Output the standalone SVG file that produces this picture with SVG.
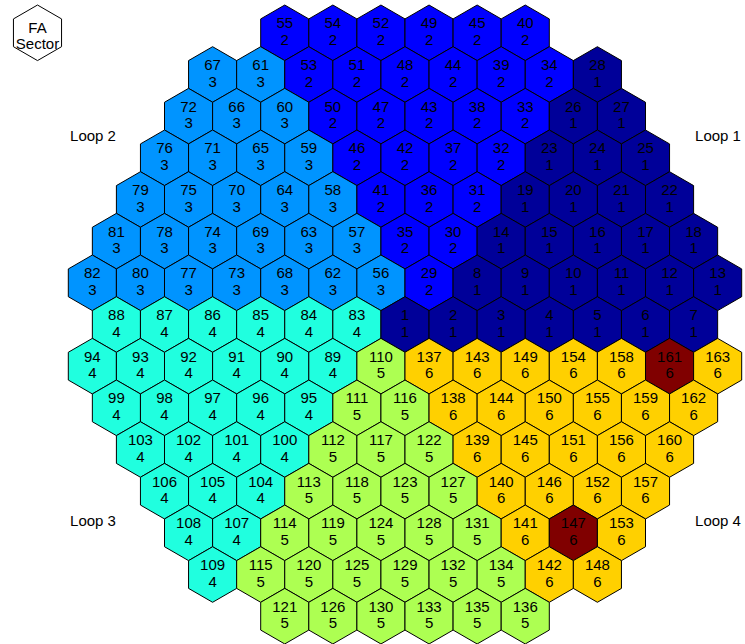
<svg xmlns="http://www.w3.org/2000/svg" xmlns:xlink="http://www.w3.org/1999/xlink" width="745" height="644" viewBox="0 0 745 644">
<defs>
<polygon id="h" points="0,-27.78 24.05,-13.89 24.05,13.89 0,27.78 -24.05,13.89 -24.05,-13.89" stroke="#000" stroke-width="1"/>
</defs>
<style>
text{font-family:"Liberation Sans",Arial,sans-serif;font-size:15px;text-anchor:middle;fill:#000}
.s1{fill:#000099}.s2{fill:#0000FF}.s3{fill:#0094FF}.s4{fill:#20FFDF}.s5{fill:#ADFF52}.s6{fill:#FFD000}.sx{fill:#800000}.sw{fill:#fff}
.lbl{text-anchor:middle}
</style>
<rect width="745" height="644" fill="#fff"/>
<g id="legend" transform="translate(37.5,32.8)"><use xlink:href="#h" class="sw"/><text y="0.5">FA</text><text y="16.5">Sector</text></g>
<g id="labels">
<text x="93" y="141">Loop 2</text>
<text x="718" y="141">Loop 1</text>
<text x="93" y="526">Loop 3</text>
<text x="718" y="526">Loop 4</text>
</g>
<g id="nodes">
<g id="fa55" transform="translate(284.75,32.8)"><use xlink:href="#h" class="s2"/><text y="-4.5">55</text><text y="12.2">2</text></g>
<g id="fa54" transform="translate(332.85,32.8)"><use xlink:href="#h" class="s2"/><text y="-4.5">54</text><text y="12.2">2</text></g>
<g id="fa52" transform="translate(380.95,32.8)"><use xlink:href="#h" class="s2"/><text y="-4.5">52</text><text y="12.2">2</text></g>
<g id="fa49" transform="translate(429.05,32.8)"><use xlink:href="#h" class="s2"/><text y="-4.5">49</text><text y="12.2">2</text></g>
<g id="fa45" transform="translate(477.15,32.8)"><use xlink:href="#h" class="s2"/><text y="-4.5">45</text><text y="12.2">2</text></g>
<g id="fa40" transform="translate(525.25,32.8)"><use xlink:href="#h" class="s2"/><text y="-4.5">40</text><text y="12.2">2</text></g>

<g id="fa67" transform="translate(212.6,74.47)"><use xlink:href="#h" class="s3"/><text y="-4.5">67</text><text y="12.2">3</text></g>
<g id="fa61" transform="translate(260.7,74.47)"><use xlink:href="#h" class="s3"/><text y="-4.5">61</text><text y="12.2">3</text></g>
<g id="fa53" transform="translate(308.8,74.47)"><use xlink:href="#h" class="s2"/><text y="-4.5">53</text><text y="12.2">2</text></g>
<g id="fa51" transform="translate(356.9,74.47)"><use xlink:href="#h" class="s2"/><text y="-4.5">51</text><text y="12.2">2</text></g>
<g id="fa48" transform="translate(405,74.47)"><use xlink:href="#h" class="s2"/><text y="-4.5">48</text><text y="12.2">2</text></g>
<g id="fa44" transform="translate(453.1,74.47)"><use xlink:href="#h" class="s2"/><text y="-4.5">44</text><text y="12.2">2</text></g>
<g id="fa39" transform="translate(501.2,74.47)"><use xlink:href="#h" class="s2"/><text y="-4.5">39</text><text y="12.2">2</text></g>
<g id="fa34" transform="translate(549.3,74.47)"><use xlink:href="#h" class="s2"/><text y="-4.5">34</text><text y="12.2">2</text></g>
<g id="fa28" transform="translate(597.4,74.47)"><use xlink:href="#h" class="s1"/><text y="-4.5">28</text><text y="12.2">1</text></g>

<g id="fa72" transform="translate(188.55,116.14)"><use xlink:href="#h" class="s3"/><text y="-4.5">72</text><text y="12.2">3</text></g>
<g id="fa66" transform="translate(236.65,116.14)"><use xlink:href="#h" class="s3"/><text y="-4.5">66</text><text y="12.2">3</text></g>
<g id="fa60" transform="translate(284.75,116.14)"><use xlink:href="#h" class="s3"/><text y="-4.5">60</text><text y="12.2">3</text></g>
<g id="fa50" transform="translate(332.85,116.14)"><use xlink:href="#h" class="s2"/><text y="-4.5">50</text><text y="12.2">2</text></g>
<g id="fa47" transform="translate(380.95,116.14)"><use xlink:href="#h" class="s2"/><text y="-4.5">47</text><text y="12.2">2</text></g>
<g id="fa43" transform="translate(429.05,116.14)"><use xlink:href="#h" class="s2"/><text y="-4.5">43</text><text y="12.2">2</text></g>
<g id="fa38" transform="translate(477.15,116.14)"><use xlink:href="#h" class="s2"/><text y="-4.5">38</text><text y="12.2">2</text></g>
<g id="fa33" transform="translate(525.25,116.14)"><use xlink:href="#h" class="s2"/><text y="-4.5">33</text><text y="12.2">2</text></g>
<g id="fa26" transform="translate(573.35,116.14)"><use xlink:href="#h" class="s1"/><text y="-4.5">26</text><text y="12.2">1</text></g>
<g id="fa27" transform="translate(621.45,116.14)"><use xlink:href="#h" class="s1"/><text y="-4.5">27</text><text y="12.2">1</text></g>

<g id="fa76" transform="translate(164.5,157.81)"><use xlink:href="#h" class="s3"/><text y="-4.5">76</text><text y="12.2">3</text></g>
<g id="fa71" transform="translate(212.6,157.81)"><use xlink:href="#h" class="s3"/><text y="-4.5">71</text><text y="12.2">3</text></g>
<g id="fa65" transform="translate(260.7,157.81)"><use xlink:href="#h" class="s3"/><text y="-4.5">65</text><text y="12.2">3</text></g>
<g id="fa59" transform="translate(308.8,157.81)"><use xlink:href="#h" class="s3"/><text y="-4.5">59</text><text y="12.2">3</text></g>
<g id="fa46" transform="translate(356.9,157.81)"><use xlink:href="#h" class="s2"/><text y="-4.5">46</text><text y="12.2">2</text></g>
<g id="fa42" transform="translate(405,157.81)"><use xlink:href="#h" class="s2"/><text y="-4.5">42</text><text y="12.2">2</text></g>
<g id="fa37" transform="translate(453.1,157.81)"><use xlink:href="#h" class="s2"/><text y="-4.5">37</text><text y="12.2">2</text></g>
<g id="fa32" transform="translate(501.2,157.81)"><use xlink:href="#h" class="s2"/><text y="-4.5">32</text><text y="12.2">2</text></g>
<g id="fa23" transform="translate(549.3,157.81)"><use xlink:href="#h" class="s1"/><text y="-4.5">23</text><text y="12.2">1</text></g>
<g id="fa24" transform="translate(597.4,157.81)"><use xlink:href="#h" class="s1"/><text y="-4.5">24</text><text y="12.2">1</text></g>
<g id="fa25" transform="translate(645.5,157.81)"><use xlink:href="#h" class="s1"/><text y="-4.5">25</text><text y="12.2">1</text></g>

<g id="fa79" transform="translate(140.45,199.48)"><use xlink:href="#h" class="s3"/><text y="-4.5">79</text><text y="12.2">3</text></g>
<g id="fa75" transform="translate(188.55,199.48)"><use xlink:href="#h" class="s3"/><text y="-4.5">75</text><text y="12.2">3</text></g>
<g id="fa70" transform="translate(236.65,199.48)"><use xlink:href="#h" class="s3"/><text y="-4.5">70</text><text y="12.2">3</text></g>
<g id="fa64" transform="translate(284.75,199.48)"><use xlink:href="#h" class="s3"/><text y="-4.5">64</text><text y="12.2">3</text></g>
<g id="fa58" transform="translate(332.85,199.48)"><use xlink:href="#h" class="s3"/><text y="-4.5">58</text><text y="12.2">3</text></g>
<g id="fa41" transform="translate(380.95,199.48)"><use xlink:href="#h" class="s2"/><text y="-4.5">41</text><text y="12.2">2</text></g>
<g id="fa36" transform="translate(429.05,199.48)"><use xlink:href="#h" class="s2"/><text y="-4.5">36</text><text y="12.2">2</text></g>
<g id="fa31" transform="translate(477.15,199.48)"><use xlink:href="#h" class="s2"/><text y="-4.5">31</text><text y="12.2">2</text></g>
<g id="fa19" transform="translate(525.25,199.48)"><use xlink:href="#h" class="s1"/><text y="-4.5">19</text><text y="12.2">1</text></g>
<g id="fa20" transform="translate(573.35,199.48)"><use xlink:href="#h" class="s1"/><text y="-4.5">20</text><text y="12.2">1</text></g>
<g id="fa21" transform="translate(621.45,199.48)"><use xlink:href="#h" class="s1"/><text y="-4.5">21</text><text y="12.2">1</text></g>
<g id="fa22" transform="translate(669.55,199.48)"><use xlink:href="#h" class="s1"/><text y="-4.5">22</text><text y="12.2">1</text></g>

<g id="fa81" transform="translate(116.4,241.15)"><use xlink:href="#h" class="s3"/><text y="-4.5">81</text><text y="12.2">3</text></g>
<g id="fa78" transform="translate(164.5,241.15)"><use xlink:href="#h" class="s3"/><text y="-4.5">78</text><text y="12.2">3</text></g>
<g id="fa74" transform="translate(212.6,241.15)"><use xlink:href="#h" class="s3"/><text y="-4.5">74</text><text y="12.2">3</text></g>
<g id="fa69" transform="translate(260.7,241.15)"><use xlink:href="#h" class="s3"/><text y="-4.5">69</text><text y="12.2">3</text></g>
<g id="fa63" transform="translate(308.8,241.15)"><use xlink:href="#h" class="s3"/><text y="-4.5">63</text><text y="12.2">3</text></g>
<g id="fa57" transform="translate(356.9,241.15)"><use xlink:href="#h" class="s3"/><text y="-4.5">57</text><text y="12.2">3</text></g>
<g id="fa35" transform="translate(405,241.15)"><use xlink:href="#h" class="s2"/><text y="-4.5">35</text><text y="12.2">2</text></g>
<g id="fa30" transform="translate(453.1,241.15)"><use xlink:href="#h" class="s2"/><text y="-4.5">30</text><text y="12.2">2</text></g>
<g id="fa14" transform="translate(501.2,241.15)"><use xlink:href="#h" class="s1"/><text y="-4.5">14</text><text y="12.2">1</text></g>
<g id="fa15" transform="translate(549.3,241.15)"><use xlink:href="#h" class="s1"/><text y="-4.5">15</text><text y="12.2">1</text></g>
<g id="fa16" transform="translate(597.4,241.15)"><use xlink:href="#h" class="s1"/><text y="-4.5">16</text><text y="12.2">1</text></g>
<g id="fa17" transform="translate(645.5,241.15)"><use xlink:href="#h" class="s1"/><text y="-4.5">17</text><text y="12.2">1</text></g>
<g id="fa18" transform="translate(693.6,241.15)"><use xlink:href="#h" class="s1"/><text y="-4.5">18</text><text y="12.2">1</text></g>

<g id="fa82" transform="translate(92.35,282.82)"><use xlink:href="#h" class="s3"/><text y="-4.5">82</text><text y="12.2">3</text></g>
<g id="fa80" transform="translate(140.45,282.82)"><use xlink:href="#h" class="s3"/><text y="-4.5">80</text><text y="12.2">3</text></g>
<g id="fa77" transform="translate(188.55,282.82)"><use xlink:href="#h" class="s3"/><text y="-4.5">77</text><text y="12.2">3</text></g>
<g id="fa73" transform="translate(236.65,282.82)"><use xlink:href="#h" class="s3"/><text y="-4.5">73</text><text y="12.2">3</text></g>
<g id="fa68" transform="translate(284.75,282.82)"><use xlink:href="#h" class="s3"/><text y="-4.5">68</text><text y="12.2">3</text></g>
<g id="fa62" transform="translate(332.85,282.82)"><use xlink:href="#h" class="s3"/><text y="-4.5">62</text><text y="12.2">3</text></g>
<g id="fa56" transform="translate(380.95,282.82)"><use xlink:href="#h" class="s3"/><text y="-4.5">56</text><text y="12.2">3</text></g>
<g id="fa29" transform="translate(429.05,282.82)"><use xlink:href="#h" class="s2"/><text y="-4.5">29</text><text y="12.2">2</text></g>
<g id="fa8" transform="translate(477.15,282.82)"><use xlink:href="#h" class="s1"/><text y="-4.5">8</text><text y="12.2">1</text></g>
<g id="fa9" transform="translate(525.25,282.82)"><use xlink:href="#h" class="s1"/><text y="-4.5">9</text><text y="12.2">1</text></g>
<g id="fa10" transform="translate(573.35,282.82)"><use xlink:href="#h" class="s1"/><text y="-4.5">10</text><text y="12.2">1</text></g>
<g id="fa11" transform="translate(621.45,282.82)"><use xlink:href="#h" class="s1"/><text y="-4.5">11</text><text y="12.2">1</text></g>
<g id="fa12" transform="translate(669.55,282.82)"><use xlink:href="#h" class="s1"/><text y="-4.5">12</text><text y="12.2">1</text></g>
<g id="fa13" transform="translate(717.65,282.82)"><use xlink:href="#h" class="s1"/><text y="-4.5">13</text><text y="12.2">1</text></g>

<g id="fa88" transform="translate(116.4,324.49)"><use xlink:href="#h" class="s4"/><text y="-4.5">88</text><text y="12.2">4</text></g>
<g id="fa87" transform="translate(164.5,324.49)"><use xlink:href="#h" class="s4"/><text y="-4.5">87</text><text y="12.2">4</text></g>
<g id="fa86" transform="translate(212.6,324.49)"><use xlink:href="#h" class="s4"/><text y="-4.5">86</text><text y="12.2">4</text></g>
<g id="fa85" transform="translate(260.7,324.49)"><use xlink:href="#h" class="s4"/><text y="-4.5">85</text><text y="12.2">4</text></g>
<g id="fa84" transform="translate(308.8,324.49)"><use xlink:href="#h" class="s4"/><text y="-4.5">84</text><text y="12.2">4</text></g>
<g id="fa83" transform="translate(356.9,324.49)"><use xlink:href="#h" class="s4"/><text y="-4.5">83</text><text y="12.2">4</text></g>
<g id="fa1" transform="translate(405,324.49)"><use xlink:href="#h" class="s1"/><text y="-4.5">1</text><text y="12.2">1</text></g>
<g id="fa2" transform="translate(453.1,324.49)"><use xlink:href="#h" class="s1"/><text y="-4.5">2</text><text y="12.2">1</text></g>
<g id="fa3" transform="translate(501.2,324.49)"><use xlink:href="#h" class="s1"/><text y="-4.5">3</text><text y="12.2">1</text></g>
<g id="fa4" transform="translate(549.3,324.49)"><use xlink:href="#h" class="s1"/><text y="-4.5">4</text><text y="12.2">1</text></g>
<g id="fa5" transform="translate(597.4,324.49)"><use xlink:href="#h" class="s1"/><text y="-4.5">5</text><text y="12.2">1</text></g>
<g id="fa6" transform="translate(645.5,324.49)"><use xlink:href="#h" class="s1"/><text y="-4.5">6</text><text y="12.2">1</text></g>
<g id="fa7" transform="translate(693.6,324.49)"><use xlink:href="#h" class="s1"/><text y="-4.5">7</text><text y="12.2">1</text></g>

<g id="fa94" transform="translate(92.35,366.16)"><use xlink:href="#h" class="s4"/><text y="-4.5">94</text><text y="12.2">4</text></g>
<g id="fa93" transform="translate(140.45,366.16)"><use xlink:href="#h" class="s4"/><text y="-4.5">93</text><text y="12.2">4</text></g>
<g id="fa92" transform="translate(188.55,366.16)"><use xlink:href="#h" class="s4"/><text y="-4.5">92</text><text y="12.2">4</text></g>
<g id="fa91" transform="translate(236.65,366.16)"><use xlink:href="#h" class="s4"/><text y="-4.5">91</text><text y="12.2">4</text></g>
<g id="fa90" transform="translate(284.75,366.16)"><use xlink:href="#h" class="s4"/><text y="-4.5">90</text><text y="12.2">4</text></g>
<g id="fa89" transform="translate(332.85,366.16)"><use xlink:href="#h" class="s4"/><text y="-4.5">89</text><text y="12.2">4</text></g>
<g id="fa110" transform="translate(380.95,366.16)"><use xlink:href="#h" class="s5"/><text y="-4.5">110</text><text y="12.2">5</text></g>
<g id="fa137" transform="translate(429.05,366.16)"><use xlink:href="#h" class="s6"/><text y="-4.5">137</text><text y="12.2">6</text></g>
<g id="fa143" transform="translate(477.15,366.16)"><use xlink:href="#h" class="s6"/><text y="-4.5">143</text><text y="12.2">6</text></g>
<g id="fa149" transform="translate(525.25,366.16)"><use xlink:href="#h" class="s6"/><text y="-4.5">149</text><text y="12.2">6</text></g>
<g id="fa154" transform="translate(573.35,366.16)"><use xlink:href="#h" class="s6"/><text y="-4.5">154</text><text y="12.2">6</text></g>
<g id="fa158" transform="translate(621.45,366.16)"><use xlink:href="#h" class="s6"/><text y="-4.5">158</text><text y="12.2">6</text></g>
<g id="fa161" transform="translate(669.55,366.16)"><use xlink:href="#h" class="sx"/><text y="-4.5">161</text><text y="12.2">6</text></g>
<g id="fa163" transform="translate(717.65,366.16)"><use xlink:href="#h" class="s6"/><text y="-4.5">163</text><text y="12.2">6</text></g>

<g id="fa99" transform="translate(116.4,407.83)"><use xlink:href="#h" class="s4"/><text y="-4.5">99</text><text y="12.2">4</text></g>
<g id="fa98" transform="translate(164.5,407.83)"><use xlink:href="#h" class="s4"/><text y="-4.5">98</text><text y="12.2">4</text></g>
<g id="fa97" transform="translate(212.6,407.83)"><use xlink:href="#h" class="s4"/><text y="-4.5">97</text><text y="12.2">4</text></g>
<g id="fa96" transform="translate(260.7,407.83)"><use xlink:href="#h" class="s4"/><text y="-4.5">96</text><text y="12.2">4</text></g>
<g id="fa95" transform="translate(308.8,407.83)"><use xlink:href="#h" class="s4"/><text y="-4.5">95</text><text y="12.2">4</text></g>
<g id="fa111" transform="translate(356.9,407.83)"><use xlink:href="#h" class="s5"/><text y="-4.5">111</text><text y="12.2">5</text></g>
<g id="fa116" transform="translate(405,407.83)"><use xlink:href="#h" class="s5"/><text y="-4.5">116</text><text y="12.2">5</text></g>
<g id="fa138" transform="translate(453.1,407.83)"><use xlink:href="#h" class="s6"/><text y="-4.5">138</text><text y="12.2">6</text></g>
<g id="fa144" transform="translate(501.2,407.83)"><use xlink:href="#h" class="s6"/><text y="-4.5">144</text><text y="12.2">6</text></g>
<g id="fa150" transform="translate(549.3,407.83)"><use xlink:href="#h" class="s6"/><text y="-4.5">150</text><text y="12.2">6</text></g>
<g id="fa155" transform="translate(597.4,407.83)"><use xlink:href="#h" class="s6"/><text y="-4.5">155</text><text y="12.2">6</text></g>
<g id="fa159" transform="translate(645.5,407.83)"><use xlink:href="#h" class="s6"/><text y="-4.5">159</text><text y="12.2">6</text></g>
<g id="fa162" transform="translate(693.6,407.83)"><use xlink:href="#h" class="s6"/><text y="-4.5">162</text><text y="12.2">6</text></g>

<g id="fa103" transform="translate(140.45,449.5)"><use xlink:href="#h" class="s4"/><text y="-4.5">103</text><text y="12.2">4</text></g>
<g id="fa102" transform="translate(188.55,449.5)"><use xlink:href="#h" class="s4"/><text y="-4.5">102</text><text y="12.2">4</text></g>
<g id="fa101" transform="translate(236.65,449.5)"><use xlink:href="#h" class="s4"/><text y="-4.5">101</text><text y="12.2">4</text></g>
<g id="fa100" transform="translate(284.75,449.5)"><use xlink:href="#h" class="s4"/><text y="-4.5">100</text><text y="12.2">4</text></g>
<g id="fa112" transform="translate(332.85,449.5)"><use xlink:href="#h" class="s5"/><text y="-4.5">112</text><text y="12.2">5</text></g>
<g id="fa117" transform="translate(380.95,449.5)"><use xlink:href="#h" class="s5"/><text y="-4.5">117</text><text y="12.2">5</text></g>
<g id="fa122" transform="translate(429.05,449.5)"><use xlink:href="#h" class="s5"/><text y="-4.5">122</text><text y="12.2">5</text></g>
<g id="fa139" transform="translate(477.15,449.5)"><use xlink:href="#h" class="s6"/><text y="-4.5">139</text><text y="12.2">6</text></g>
<g id="fa145" transform="translate(525.25,449.5)"><use xlink:href="#h" class="s6"/><text y="-4.5">145</text><text y="12.2">6</text></g>
<g id="fa151" transform="translate(573.35,449.5)"><use xlink:href="#h" class="s6"/><text y="-4.5">151</text><text y="12.2">6</text></g>
<g id="fa156" transform="translate(621.45,449.5)"><use xlink:href="#h" class="s6"/><text y="-4.5">156</text><text y="12.2">6</text></g>
<g id="fa160" transform="translate(669.55,449.5)"><use xlink:href="#h" class="s6"/><text y="-4.5">160</text><text y="12.2">6</text></g>

<g id="fa106" transform="translate(164.5,491.17)"><use xlink:href="#h" class="s4"/><text y="-4.5">106</text><text y="12.2">4</text></g>
<g id="fa105" transform="translate(212.6,491.17)"><use xlink:href="#h" class="s4"/><text y="-4.5">105</text><text y="12.2">4</text></g>
<g id="fa104" transform="translate(260.7,491.17)"><use xlink:href="#h" class="s4"/><text y="-4.5">104</text><text y="12.2">4</text></g>
<g id="fa113" transform="translate(308.8,491.17)"><use xlink:href="#h" class="s5"/><text y="-4.5">113</text><text y="12.2">5</text></g>
<g id="fa118" transform="translate(356.9,491.17)"><use xlink:href="#h" class="s5"/><text y="-4.5">118</text><text y="12.2">5</text></g>
<g id="fa123" transform="translate(405,491.17)"><use xlink:href="#h" class="s5"/><text y="-4.5">123</text><text y="12.2">5</text></g>
<g id="fa127" transform="translate(453.1,491.17)"><use xlink:href="#h" class="s5"/><text y="-4.5">127</text><text y="12.2">5</text></g>
<g id="fa140" transform="translate(501.2,491.17)"><use xlink:href="#h" class="s6"/><text y="-4.5">140</text><text y="12.2">6</text></g>
<g id="fa146" transform="translate(549.3,491.17)"><use xlink:href="#h" class="s6"/><text y="-4.5">146</text><text y="12.2">6</text></g>
<g id="fa152" transform="translate(597.4,491.17)"><use xlink:href="#h" class="s6"/><text y="-4.5">152</text><text y="12.2">6</text></g>
<g id="fa157" transform="translate(645.5,491.17)"><use xlink:href="#h" class="s6"/><text y="-4.5">157</text><text y="12.2">6</text></g>

<g id="fa108" transform="translate(188.55,532.84)"><use xlink:href="#h" class="s4"/><text y="-4.5">108</text><text y="12.2">4</text></g>
<g id="fa107" transform="translate(236.65,532.84)"><use xlink:href="#h" class="s4"/><text y="-4.5">107</text><text y="12.2">4</text></g>
<g id="fa114" transform="translate(284.75,532.84)"><use xlink:href="#h" class="s5"/><text y="-4.5">114</text><text y="12.2">5</text></g>
<g id="fa119" transform="translate(332.85,532.84)"><use xlink:href="#h" class="s5"/><text y="-4.5">119</text><text y="12.2">5</text></g>
<g id="fa124" transform="translate(380.95,532.84)"><use xlink:href="#h" class="s5"/><text y="-4.5">124</text><text y="12.2">5</text></g>
<g id="fa128" transform="translate(429.05,532.84)"><use xlink:href="#h" class="s5"/><text y="-4.5">128</text><text y="12.2">5</text></g>
<g id="fa131" transform="translate(477.15,532.84)"><use xlink:href="#h" class="s5"/><text y="-4.5">131</text><text y="12.2">5</text></g>
<g id="fa141" transform="translate(525.25,532.84)"><use xlink:href="#h" class="s6"/><text y="-4.5">141</text><text y="12.2">6</text></g>
<g id="fa147" transform="translate(573.35,532.84)"><use xlink:href="#h" class="sx"/><text y="-4.5">147</text><text y="12.2">6</text></g>
<g id="fa153" transform="translate(621.45,532.84)"><use xlink:href="#h" class="s6"/><text y="-4.5">153</text><text y="12.2">6</text></g>

<g id="fa109" transform="translate(212.6,574.51)"><use xlink:href="#h" class="s4"/><text y="-4.5">109</text><text y="12.2">4</text></g>
<g id="fa115" transform="translate(260.7,574.51)"><use xlink:href="#h" class="s5"/><text y="-4.5">115</text><text y="12.2">5</text></g>
<g id="fa120" transform="translate(308.8,574.51)"><use xlink:href="#h" class="s5"/><text y="-4.5">120</text><text y="12.2">5</text></g>
<g id="fa125" transform="translate(356.9,574.51)"><use xlink:href="#h" class="s5"/><text y="-4.5">125</text><text y="12.2">5</text></g>
<g id="fa129" transform="translate(405,574.51)"><use xlink:href="#h" class="s5"/><text y="-4.5">129</text><text y="12.2">5</text></g>
<g id="fa132" transform="translate(453.1,574.51)"><use xlink:href="#h" class="s5"/><text y="-4.5">132</text><text y="12.2">5</text></g>
<g id="fa134" transform="translate(501.2,574.51)"><use xlink:href="#h" class="s5"/><text y="-4.5">134</text><text y="12.2">5</text></g>
<g id="fa142" transform="translate(549.3,574.51)"><use xlink:href="#h" class="s6"/><text y="-4.5">142</text><text y="12.2">6</text></g>
<g id="fa148" transform="translate(597.4,574.51)"><use xlink:href="#h" class="s6"/><text y="-4.5">148</text><text y="12.2">6</text></g>

<g id="fa121" transform="translate(284.75,616.18)"><use xlink:href="#h" class="s5"/><text y="-4.5">121</text><text y="12.2">5</text></g>
<g id="fa126" transform="translate(332.85,616.18)"><use xlink:href="#h" class="s5"/><text y="-4.5">126</text><text y="12.2">5</text></g>
<g id="fa130" transform="translate(380.95,616.18)"><use xlink:href="#h" class="s5"/><text y="-4.5">130</text><text y="12.2">5</text></g>
<g id="fa133" transform="translate(429.05,616.18)"><use xlink:href="#h" class="s5"/><text y="-4.5">133</text><text y="12.2">5</text></g>
<g id="fa135" transform="translate(477.15,616.18)"><use xlink:href="#h" class="s5"/><text y="-4.5">135</text><text y="12.2">5</text></g>
<g id="fa136" transform="translate(525.25,616.18)"><use xlink:href="#h" class="s5"/><text y="-4.5">136</text><text y="12.2">5</text></g>
</g>
</svg>
